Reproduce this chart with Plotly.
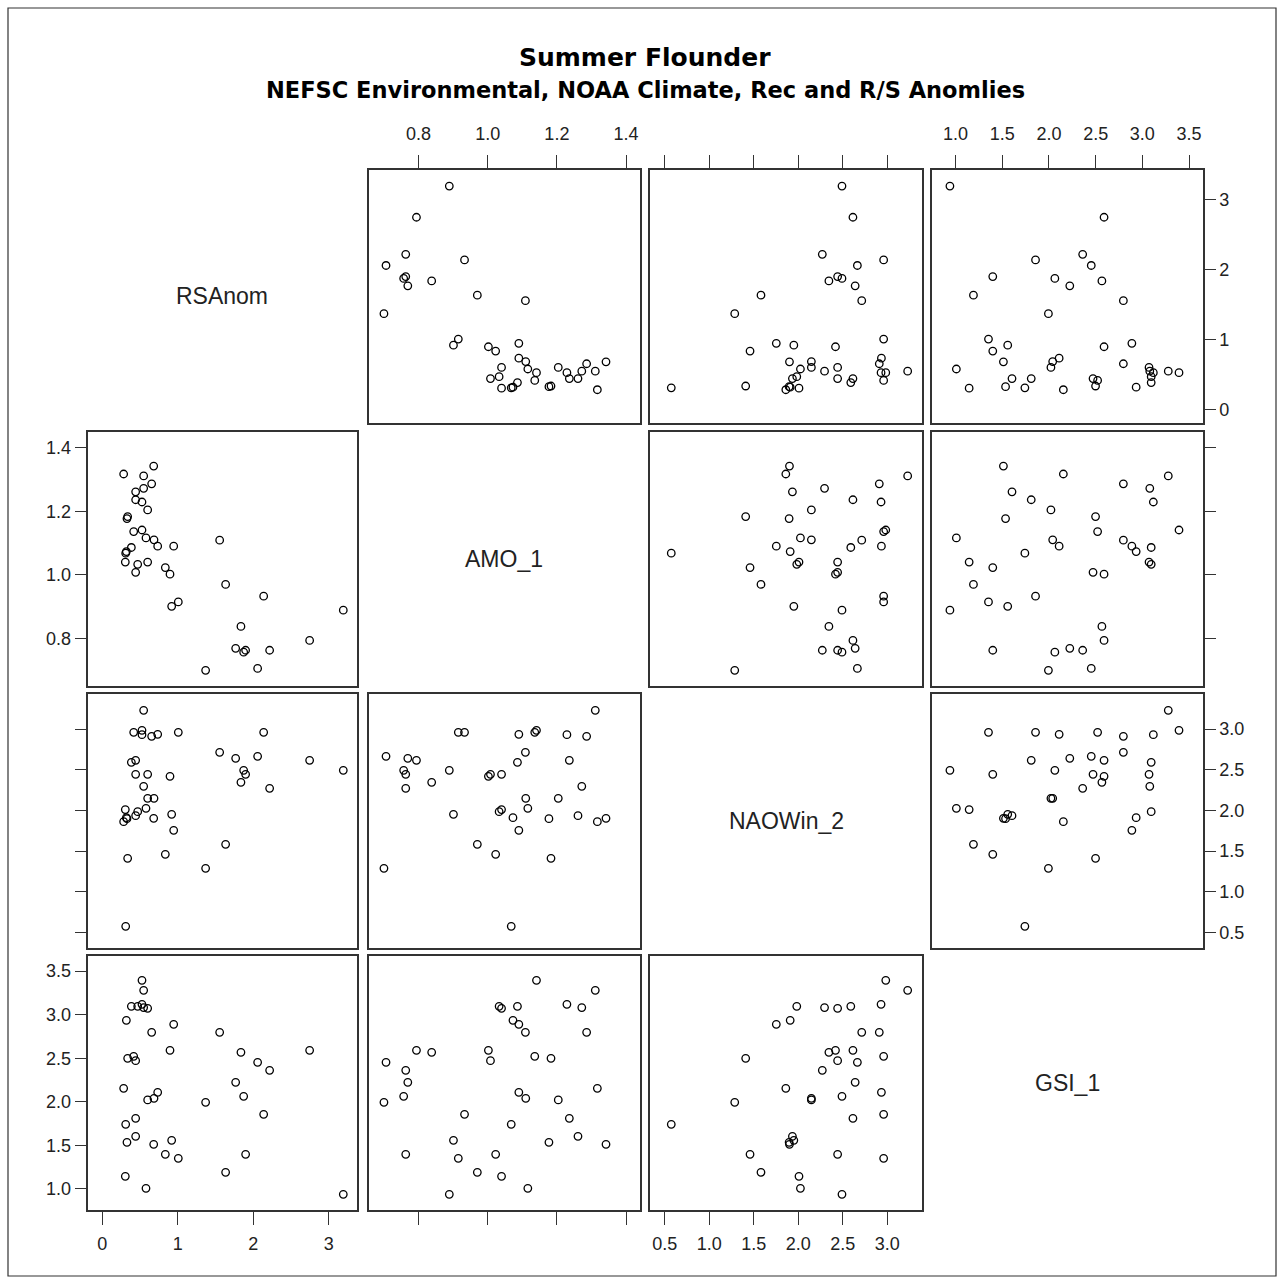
import plotly.graph_objects as go

# ---------------- data ----------------
variables = ["RSAnom", "AMO_1", "NAOWin_2", "GSI_1"]

rs_anom = [0.549, 1.008, 0.735, 0.417, 0.527, 0.527, 0.655, 0.386, 0.443, 0.898,
           0.443, 0.602, 0.549, 0.686, 0.580, 0.602, 0.920, 0.306, 0.470, 0.320,
           0.947, 0.682, 0.284, 0.443, 0.836, 0.337, 0.311, 0.328, 1.370, 1.556,
           1.635, 1.768, 1.838, 1.874, 1.900, 2.059, 2.139, 2.218, 2.748, 3.194]
amo_1 = [1.311, 0.915, 1.090, 1.136, 1.141, 1.229, 1.286, 1.086, 1.236, 1.002,
         1.008, 1.040, 1.272, 1.110, 1.116, 1.204, 0.901, 1.040, 1.033, 1.073,
         1.090, 1.342, 1.317, 1.261, 1.023, 1.183, 1.068, 1.177, 0.700, 1.109,
         0.970, 0.769, 0.838, 0.757, 0.763, 0.706, 0.933, 0.763, 0.794, 0.889]
nao_win_2 = [3.230, 2.960, 2.935, 2.960, 2.984, 2.931, 2.911, 2.591, 2.615, 2.419,
             2.443, 2.443, 2.296, 2.148, 2.025, 2.148, 1.951, 2.009, 1.984, 1.910,
             1.754, 1.902, 1.861, 1.935, 1.459, 1.410, 0.574, 1.898, 1.287, 2.714,
             1.582, 2.640, 2.345, 2.492, 2.443, 2.665, 2.960, 2.271, 2.615, 2.492]
gsi_1 = [3.278, 1.352, 2.109, 2.521, 3.393, 3.118, 2.797, 3.095, 1.810, 2.590,
         2.472, 3.072, 3.080, 2.040, 1.008, 2.021, 1.558, 1.145, 3.095, 2.934,
         2.888, 1.512, 2.154, 1.604, 1.398, 2.499, 1.742, 1.535, 1.994, 2.797,
         1.191, 2.223, 2.567, 2.063, 1.398, 2.453, 1.856, 2.361, 2.590, 0.939]

tick_rs = [0, 1, 2, 3]
tick_amo = [0.8, 1.0, 1.2, 1.4]
tick_nao = [0.5, 1.0, 1.5, 2.0, 2.5, 3.0]
tick_gsi = [1.0, 1.5, 2.0, 2.5, 3.0, 3.5]

title_text = "Summer Flounder"
subtitle_text = "NEFSC Environmental, NOAA Climate, Rec and R/S Anomlies"

# ---------------- layout constants ----------------
data = [rs_anom, amo_1, nao_win_2, gsi_1]
ticks = [tick_rs, tick_amo, tick_nao, tick_gsi]
tickfmt = ["d", ".1f", ".1f", ".1f"]

W, H = 1284, 1283
col_px = [(87.5, 356.5), (369, 640), (650, 922), (932, 1203)]
row_px = [(170, 422.7), (432, 686), (694, 948), (956, 1210)]
x_ranges = [[-0.195, 3.369], [0.6568, 1.4403], [0.335, 3.391], [0.747, 3.650]]
y_ranges = [[-0.187, 3.423], [0.6506, 1.449], [0.307, 3.431], [0.759, 3.672]]

FONT = "Liberation Sans, Arial, sans-serif"
TFONT = "DejaVu Sans, Liberation Sans, Arial, sans-serif"
LINEC = "#333333"
tickfont = dict(family=FONT, size=18, color="#222222")

fig = go.Figure()
layout = dict(
    width=W, height=H,
    margin=dict(l=0, r=0, t=0, b=0),
    paper_bgcolor="white", plot_bgcolor="white",
    showlegend=False,
)

annotations = []
for i in range(4):
    for j in range(4):
        k = i * 4 + j + 1
        sfx = "" if k == 1 else str(k)
        x0, x1 = col_px[j]
        y0, y1 = row_px[i]
        xa = dict(domain=[x0 / W, x1 / W], anchor="y" + sfx, range=x_ranges[j],
                  showline=True, mirror=True, linecolor=LINEC, linewidth=1.5,
                  showgrid=False, zeroline=False, tickvals=ticks[j],
                  tickformat=tickfmt[j], tickfont=tickfont, ticklen=13,
                  ticklabelstandoff=4,
                  tickwidth=1.2, tickcolor=LINEC, fixedrange=True)
        ya = dict(domain=[1 - y1 / H, 1 - y0 / H], anchor="x" + sfx, range=y_ranges[i],
                  showline=True, mirror=True, linecolor=LINEC, linewidth=1.5,
                  showgrid=False, zeroline=False, tickvals=ticks[i],
                  tickformat=tickfmt[i], tickfont=tickfont, ticklen=11,
                  tickwidth=1.2, tickcolor=LINEC, fixedrange=True)
        if i == 0:
            xa.update(side="top", ticks="outside", showticklabels=(j in (1, 3)),
                      ticklabelstandoff=8)
        elif i == 3:
            xa.update(side="bottom", ticks="outside", showticklabels=(j in (0, 2)))
        else:
            xa.update(ticks="", showticklabels=False)
        if j == 0:
            ya.update(side="left", ticks="outside", showticklabels=(i in (1, 3)))
        elif j == 3:
            ya.update(side="right", ticks="outside", showticklabels=(i in (0, 2)))
        else:
            ya.update(ticks="", showticklabels=False)
        layout["xaxis" + sfx] = xa
        layout["yaxis" + sfx] = ya

        if i != j:
            fig.add_trace(go.Scatter(
                x=data[j], y=data[i], mode="markers",
                xaxis="x" + sfx, yaxis="y" + sfx,
                marker=dict(symbol="circle-open", size=7.5, color="black",
                            line=dict(width=1.3, color="black")),
                hoverinfo="skip"))
        else:
            annotations.append(dict(
                text=variables[i], xref="paper", yref="paper",
                x=(x0 + x1) / 2 / W, y=1 - (y0 + y1) / 2 / H,
                showarrow=False, xanchor="center", yanchor="middle",
                font=dict(family=FONT, size=23, color="#222222")))

annotations.append(dict(text="<b>" + title_text + "</b>", xref="paper", yref="paper",
                        x=0.502, y=1 - 57 / H, showarrow=False, xanchor="center",
                        yanchor="middle", font=dict(family=TFONT, size=25, color="black")))
annotations.append(dict(text="<b>" + subtitle_text + "</b>", xref="paper", yref="paper",
                        x=0.503, y=1 - 90 / H, showarrow=False, xanchor="center",
                        yanchor="middle", font=dict(family=TFONT, size=22.5, color="black")))
layout["annotations"] = annotations
layout["shapes"] = [dict(type="rect", xref="paper", yref="paper",
                         x0=8 / W, x1=1276 / W, y0=1 - 1276 / H, y1=1 - 8 / H,
                         line=dict(color=LINEC, width=1.2))]

fig.update_layout(**layout)
fig.write_html("out.html", config={"displayModeBar": False},
               post_script="document.body.style.margin='0px';document.body.style.overflow='hidden';")
